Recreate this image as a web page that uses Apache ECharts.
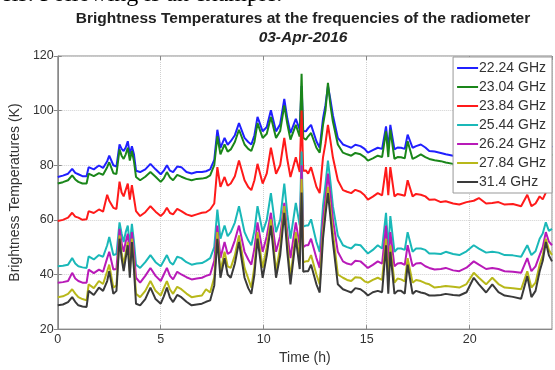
<!DOCTYPE html>
<html>
<head>
<meta charset="utf-8">
<script src="https://cdn.jsdelivr.net/npm/echarts@6/dist/echarts.min.js"></script>
<style>
html, body { margin: 0; padding: 0; background: #fff; }
#chart { width: 555px; height: 370px; }
</style>
</head>
<body>
<div id="chart"></div>
<script>
// time axis (hours) shared by all channels
var hours = [0, 0.25, 0.5, 0.7, 0.85, 1, 1.2, 1.4, 1.5, 1.75, 2, 2.2, 2.4, 2.5, 2.7, 2.85, 3.0, 3.1, 3.2, 3.3,
  3.4, 3.5, 3.6, 3.7, 3.8, 4, 4.25, 4.5, 4.75, 5, 5.15, 5.3, 5.45, 5.6, 5.8, 6, 6.25, 6.5, 6.75, 7,
  7.2, 7.4, 7.6, 7.75, 7.9, 8.1, 8.25, 8.4, 8.6, 8.8, 9.07, 9.25, 9.4, 9.55, 9.7, 9.95, 10.15, 10.35, 10.6, 10.8,
  11, 11.15, 11.3, 11.56, 11.75, 11.84, 11.92, 12.05, 12.16, 12.3, 12.56, 12.72, 12.88, 13.0, 13.12, 13.24, 13.36, 13.6, 13.85, 14.05,
  14.25, 14.45, 14.7, 14.9, 15.06, 15.3, 15.54, 15.75, 15.94, 16.05, 16.15, 16.35, 16.5, 16.67, 16.85, 16.99, 17.23, 17.4, 17.63, 17.85,
  18.04, 18.3, 18.6, 18.84, 19.2, 19.5, 19.85, 20.2, 20.45, 20.8, 21.1, 21.4, 21.7, 22.1, 22.5, 22.8, 23.0, 23.2, 23.4, 23.55,
  23.7, 23.85, 24];

var channels = ['22.24 GHz', '23.04 GHz', '23.84 GHz', '25.44 GHz', '26.24 GHz', '27.84 GHz', '31.4 GHz'];

var tb2224 = [75.7, 76.2, 76.9, 78.7, 77.2, 76.7, 76.0, 76.0, 79.3, 78.5, 79.9, 79.0, 81.5, 83.5, 80.0, 79.5, 87.6, 86.0, 85.2, 86.5,
  88.8, 84.0, 87.0, 84.0, 78.0, 77.5, 78.5, 80.5, 78.5, 76.7, 78.0, 80.0, 78.0, 77.5, 79.5, 79.3, 77.5, 77.0, 77.5, 77.5,
  77.8, 78.5, 82.0, 93.0, 86.4, 90.0, 87.5, 88.8, 91.0, 95.4, 90.0, 88.5, 87.6, 91.0, 97.7, 92.4, 94.0, 100.1, 92.4, 95.0,
  104.3, 97.0, 91.8, 97.0, 93.0, 109.0, 92.5, 92.4, 93.6, 94.8, 88.8, 86.4, 97.1, 102.0, 109.0, 104.0, 98.3, 90.0, 87.6, 87.0,
  86.4, 87.5, 87.0, 86.0, 84.6, 85.5, 86.4, 86.0, 94.2, 86.0, 94.8, 85.8, 86.5, 86.4, 86.0, 91.2, 86.4, 87.0, 87.6, 86.5,
  85.2, 85.0, 84.5, 84.0, 83.5, 83.0, 83.5, 85.0, 84.5, 83.0, 83.5, 82.5, 82.0, 82.0, 81.5, 85.0, 81.5, 82.5, 84.0, 86.0,
  88.2, 86.0, 87.0];

var tb2304 = [73.3, 73.8, 74.5, 76.3, 74.8, 73.9, 73.3, 73.3, 76.9, 76.0, 77.1, 76.5, 79.3, 81.1, 77.1, 76.8, 85.8, 83.5, 82.3, 84.0,
  86.4, 81.7, 85.2, 81.5, 75.7, 74.5, 75.8, 77.5, 75.8, 73.9, 75.2, 77.5, 75.5, 74.5, 76.5, 75.8, 75.0, 74.5, 75.0, 75.1,
  75.4, 76.3, 80.0, 90.6, 84.0, 87.6, 85.0, 85.8, 88.5, 93.0, 87.6, 86.0, 85.2, 88.5, 95.4, 90.0, 91.5, 97.7, 90.0, 92.5,
  101.9, 95.0, 89.4, 94.8, 90.5, 113.5, 90.0, 89.4, 90.6, 91.8, 86.4, 84.6, 94.8, 100.0, 110.2, 102.0, 96.0, 87.6, 84.6, 84.0,
  83.5, 84.5, 84.0, 83.0, 81.7, 82.5, 83.5, 83.0, 92.4, 83.0, 93.0, 82.3, 83.0, 82.9, 82.5, 88.8, 82.3, 83.0, 84.0, 83.0,
  82.3, 81.8, 81.5, 81.0, 80.5, 80.0, 80.5, 82.0, 81.5, 80.0, 80.5, 79.5, 79.0, 79.0, 78.5, 82.0, 78.5, 79.5, 81.0, 83.0,
  85.5, 83.0, 84.0];

var tb2384 = [59.6, 60.0, 60.8, 62.6, 61.2, 60.8, 60.0, 60.2, 63.2, 62.5, 63.8, 63.0, 69.2, 67.0, 64.4, 64.0, 74.0, 70.0, 68.6, 71.0,
  73.3, 67.4, 72.7, 68.0, 63.2, 61.4, 62.8, 65.0, 63.0, 61.4, 62.5, 64.4, 62.5, 62.0, 64.0, 63.2, 62.0, 61.4, 62.0, 62.6,
  62.8, 63.8, 66.0, 79.3, 72.1, 75.7, 72.5, 73.3, 76.0, 81.7, 74.5, 72.0, 70.9, 74.5, 80.5, 73.3, 77.0, 86.4, 76.9, 80.0,
  90.0, 82.0, 75.7, 82.9, 77.5, 100.0, 78.0, 78.1, 76.9, 79.3, 72.1, 69.8, 82.9, 88.0, 94.8, 89.0, 82.9, 74.5, 70.9, 70.3,
  69.8, 71.0, 70.3, 69.0, 67.4, 68.5, 69.8, 69.0, 79.3, 69.0, 79.3, 68.6, 69.5, 69.2, 68.8, 74.5, 68.6, 69.5, 69.2, 68.6,
  67.4, 67.5, 66.5, 66.8, 66.0, 65.6, 66.5, 67.0, 68.0, 66.0, 66.2, 66.5, 65.6, 65.8, 65.0, 69.2, 65.0, 66.0, 68.6, 67.5,
  70.0, 72.1, 71.5];

var tb2544 = [43.0, 43.2, 43.6, 46.0, 44.0, 43.0, 42.6, 42.4, 46.6, 45.5, 47.1, 46.5, 50.7, 53.7, 47.1, 47.5, 59.1, 55.0, 51.9, 55.5,
  57.9, 50.7, 58.5, 52.0, 43.6, 42.4, 44.5, 47.1, 44.5, 43.0, 45.0, 47.1, 44.5, 43.6, 46.5, 46.0, 44.5, 43.6, 44.0, 44.2,
  45.0, 46.0, 50.0, 63.8, 53.1, 57.9, 54.0, 55.5, 59.0, 65.0, 55.5, 52.5, 50.7, 56.0, 65.0, 55.5, 60.0, 69.8, 55.5, 60.0,
  73.3, 62.0, 53.1, 66.2, 58.0, 85.0, 57.5, 57.9, 57.9, 60.2, 51.9, 48.3, 65.0, 73.0, 81.7, 74.0, 65.0, 54.3, 50.7, 50.0,
  49.5, 51.0, 50.7, 49.0, 47.7, 49.0, 50.7, 49.5, 62.6, 49.0, 61.4, 48.3, 49.5, 49.5, 49.0, 55.5, 48.3, 49.5, 49.5, 49.0,
  47.7, 47.7, 47.5, 48.3, 47.5, 47.1, 48.5, 50.7, 49.5, 48.0, 48.3, 48.0, 47.1, 47.0, 46.5, 50.7, 47.1, 48.5, 53.1, 55.0,
  59.1, 56.0, 56.7];

var tb2624 = [37.0, 37.2, 37.6, 40.6, 38.5, 37.6, 37.0, 37.0, 41.8, 40.5, 41.8, 41.0, 46.0, 48.3, 41.8, 42.0, 56.7, 51.5, 48.3, 52.0,
  54.9, 47.1, 55.5, 48.5, 38.8, 37.0, 39.5, 42.4, 39.5, 37.6, 40.0, 42.4, 39.5, 38.2, 41.0, 40.0, 39.0, 38.2, 38.5, 38.8,
  39.5, 40.0, 45.0, 57.9, 46.0, 51.9, 47.5, 48.3, 52.5, 57.9, 48.3, 45.5, 43.6, 49.5, 59.1, 48.3, 54.0, 62.6, 48.3, 54.0,
  66.2, 55.0, 46.0, 59.1, 50.5, 80.0, 50.0, 50.7, 50.7, 53.1, 46.0, 42.4, 60.2, 68.0, 76.9, 69.0, 60.2, 48.3, 44.8, 44.0,
  43.6, 45.0, 44.8, 43.5, 42.4, 43.5, 44.8, 44.0, 57.9, 43.5, 55.5, 43.0, 44.0, 44.2, 43.5, 50.7, 43.0, 44.0, 44.2, 43.0,
  42.4, 41.8, 42.0, 42.4, 41.5, 41.2, 42.5, 44.8, 43.6, 42.0, 42.4, 42.0, 41.2, 41.0, 40.6, 46.0, 41.2, 43.0, 47.1, 50.0,
  55.5, 52.0, 50.7];

var tb2784 = [31.7, 32.0, 32.9, 34.6, 33.0, 31.7, 31.0, 30.5, 36.4, 35.0, 37.6, 36.5, 41.2, 43.6, 35.2, 36.0, 54.3, 48.0, 43.6, 48.0,
  51.9, 41.2, 53.1, 44.0, 32.9, 31.7, 34.0, 37.6, 34.0, 32.3, 35.0, 37.6, 34.5, 32.9, 35.5, 34.6, 33.0, 31.7, 32.0, 32.3,
  34.6, 33.4, 39.0, 55.5, 41.2, 48.3, 43.0, 42.4, 47.0, 54.3, 42.4, 38.5, 35.2, 43.0, 55.5, 42.4, 50.0, 60.2, 41.2, 50.0,
  65.0, 51.0, 38.8, 55.5, 45.0, 75.0, 44.5, 44.8, 44.8, 47.1, 40.0, 36.4, 55.5, 64.0, 72.1, 64.0, 55.5, 40.0, 38.8, 38.0,
  37.6, 39.0, 38.8, 37.5, 37.0, 38.0, 38.8, 38.0, 53.1, 37.5, 50.7, 37.0, 38.5, 38.2, 37.5, 46.0, 37.0, 38.0, 37.6, 36.8,
  36.4, 35.2, 35.5, 35.8, 35.5, 35.2, 36.5, 40.6, 38.8, 36.4, 38.8, 36.5, 35.2, 35.0, 34.6, 41.2, 35.2, 37.0, 43.6, 47.0,
  53.1, 49.0, 47.1];

var tb3140 = [28.7, 29.0, 29.9, 31.7, 30.0, 28.7, 28.3, 28.1, 34.0, 32.5, 35.2, 34.0, 37.6, 41.2, 32.9, 34.0, 53.1, 46.0, 41.2, 46.0,
  50.7, 38.8, 51.9, 42.0, 29.3, 28.7, 31.0, 35.2, 31.0, 29.3, 32.0, 35.2, 31.5, 29.9, 32.5, 31.7, 30.0, 28.7, 29.0, 29.3,
  30.0, 30.5, 36.0, 53.1, 38.8, 46.0, 40.0, 38.8, 44.0, 51.9, 38.8, 35.0, 32.9, 40.0, 53.1, 38.8, 47.0, 57.9, 38.8, 47.0,
  62.6, 48.0, 36.4, 53.1, 42.0, 70.0, 41.0, 41.2, 41.2, 43.6, 36.4, 33.4, 53.1, 62.0, 69.8, 61.0, 51.9, 36.4, 34.6, 34.0,
  33.4, 35.0, 34.6, 33.5, 32.3, 33.5, 34.0, 33.5, 50.7, 33.0, 48.3, 32.9, 34.0, 34.0, 33.0, 43.6, 32.9, 34.0, 33.4, 33.0,
  32.3, 32.3, 32.5, 32.9, 32.5, 32.3, 33.5, 38.8, 36.4, 33.4, 36.4, 33.5, 32.3, 31.8, 31.1, 39.4, 31.7, 34.0, 41.2, 45.0,
  51.9, 47.0, 44.8];

var allValues = [tb2224, tb2304, tb2384, tb2544, tb2624, tb2784, tb3140];
var colors = ['#2020ff', '#1a861a', '#ff1a1a', '#1ab8b8', '#b81ab8', '#b8b81a', '#3a3a3a'];

var myChart = echarts.init(document.getElementById('chart'));

var series = channels.map(function (name, i) {
    return {
        name: name,
        type: 'line',
        symbol: 'none',
        lineStyle: { width: 2, color: colors[i] },
        itemStyle: { color: colors[i] },
        data: hours.map(function (h, k) { return [h, allValues[i][k]]; })
    };
});

var font = 'Liberation Sans, Arial, sans-serif';

var option = {
    animation: false,
    backgroundColor: '#fff',
    // tail of the document sentence above the figure, cut by the top edge
    graphic: [{
        type: 'text',
        x: 1,
        y: -17,
        style: { text: 'els. Following is an example.', font: '24px "Liberation Serif", serif', fill: '#000' }
    }],
    title: [{
        text: 'Brightness Temperatures at the frequencies of the radiometer',
        left: 303, top: 11, padding: 0, textAlign: 'center',
        textStyle: { fontFamily: font, fontSize: 15.5, fontWeight: 'bold', color: '#222' }
    }, {
        text: '03-Apr-2016',
        left: 303, top: 30, padding: 0, textAlign: 'center',
        textStyle: { fontFamily: font, fontSize: 15.5, fontWeight: 'bold', fontStyle: 'italic', color: '#222' }
    }],
    legend: {
        orient: 'vertical',
        right: 3, top: 57,
        padding: [4, 6, 4, 4],
        itemGap: 5,
        itemWidth: 21,
        itemHeight: 2,
        icon: 'rect',
        backgroundColor: '#fff',
        borderColor: '#999',
        borderWidth: 1,
        borderRadius: 0,
        textStyle: { fontFamily: font, fontSize: 14, color: '#333', padding: [0, 0, 0, -4], lineHeight: 14 },
        data: channels
    },
    grid: { left: 55, right: 3, top: 56, bottom: 34, show: true, borderColor: '#888', borderWidth: 1 },
    xAxis: [{
        type: 'value', min: 0, max: 24, interval: 5,
        name: 'Time (h)', nameLocation: 'middle', nameGap: 16,
        nameTextStyle: { fontFamily: font, fontSize: 14, color: '#333' },
        axisLine: { lineStyle: { color: '#888' } },
        axisTick: { inside: true, length: 4, lineStyle: { color: '#888' } },
        axisLabel: { fontFamily: font, fontSize: 12.5, color: '#333', margin: 4, showMaxLabel: false },
        splitLine: { show: true, lineStyle: { color: '#d0d0d0', type: 'dotted' } }
    }, {
        type: 'value', min: 0, max: 24, interval: 5, position: 'top',
        axisLine: { show: false },
        axisTick: { inside: true, length: 4, lineStyle: { color: '#888' } },
        axisLabel: { show: false }, splitLine: { show: false }
    }],
    yAxis: [{
        type: 'value', min: 20, max: 120, interval: 20,
        name: 'Brightness Temperatures (K)', nameLocation: 'middle', nameGap: 26,
        nameTextStyle: { fontFamily: font, fontSize: 14, color: '#333' },
        axisLine: { show: true, lineStyle: { color: '#888' } },
        axisTick: { show: true, inside: true, length: 4, lineStyle: { color: '#888' } },
        axisLabel: { fontFamily: font, fontSize: 12.5, color: '#333', margin: 4 },
        splitLine: { show: true, lineStyle: { color: '#d0d0d0', type: 'dotted' } }
    }, {
        type: 'value', min: 20, max: 120, interval: 20, position: 'right',
        axisLine: { show: false },
        axisTick: { show: true, inside: true, length: 4, lineStyle: { color: '#888' } },
        axisLabel: { show: false }, splitLine: { show: false }
    }],
    series: series
};

myChart.setOption(option);
</script>
</body>
</html>
